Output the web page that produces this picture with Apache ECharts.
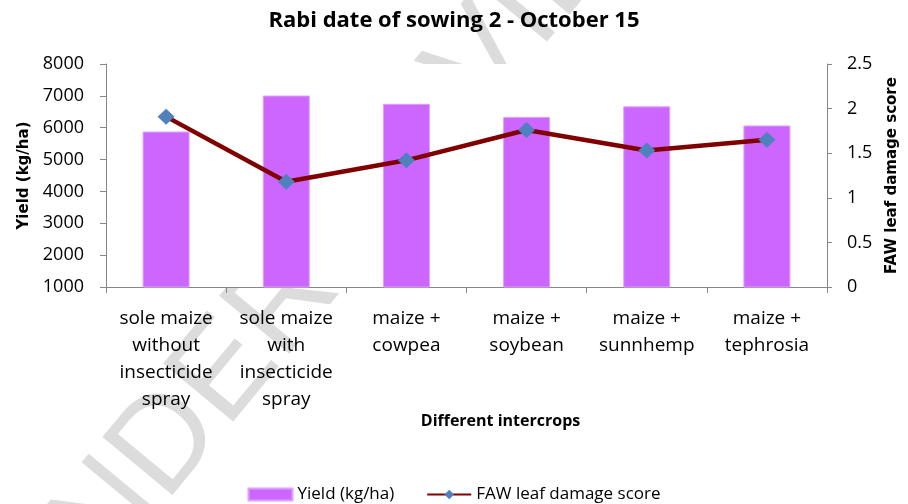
<!DOCTYPE html>
<html>
<head>
<meta charset="utf-8">
<script src="https://cdn.jsdelivr.net/npm/echarts@6/dist/echarts.min.js"></script>
<style>
  html, body { margin: 0; padding: 0; background: #fff; }
  #chart { width: 908px; height: 504px; }
</style>
</head>
<body>
<div id="chart"></div>
<script>
// data
var categories = [
  'sole maize\nwithout\ninsecticide\nspray',
  'sole maize\nwith\ninsecticide\nspray',
  'maize +\ncowpea',
  'maize +\nsoybean',
  'maize +\nsunnhemp',
  'maize +\ntephrosia'
]
var yieldData = [5880, 7010, 6750, 6340, 6670, 6070]
var damageScore = [1.91, 1.18, 1.42, 1.76, 1.53, 1.65]
var yieldTicks = [1000, 8000, 1000] // min, max, step
var scoreTicks = [0, 2.5, 0.5]

var font = "'Open Sans', 'Noto Sans', sans-serif"
var axisGray = '#868686'

var charts = echarts.init(document.getElementById('chart'))
var options = {
  animation: false,
  textStyle: { fontFamily: font },
  title: {
    text: 'Rabi date of sowing 2 - October 15',
    left: 'center',
    top: 5,
    textStyle: { fontFamily: font, fontSize: 22, fontWeight: 'bold', color: '#000' }
  },
  graphic: [{
    // faint watermark, hidden behind the white plot area
    type: 'text',
    x: -35,
    y: 585,
    rotation: 0.88,
    z: -10,
    silent: true,
    style: {
      text: 'UNDER REVIEW',
      fontSize: 132,
      fontFamily: 'Liberation Sans',
      fill: '#dcdcdc'
    }
  }],
  legend: {
    top: 481,
    left: 'center',
    itemGap: 32,
    itemWidth: 44,
    itemHeight: 12,
    textStyle: { fontFamily: font, fontSize: 17, color: '#000' },
    data: [
      { name: 'Yield (kg/ha)', icon: 'rect' },
      { name: 'FAW leaf damage score' }
    ]
  },
  grid: {
    show: true,
    backgroundColor: '#fff',
    borderWidth: 0,
    top: 64,
    bottom: 217,
    left: 106,
    right: 81
  },
  xAxis: {
    type: 'category',
    data: categories,
    name: 'Different intercrops',
    nameLocation: 'middle',
    nameGap: 121,
    nameTextStyle: {
      fontFamily: font, fontSize: 16, fontWeight: 'bold', color: '#000',
      padding: [0, 0, 0, 68]
    },
    axisLine: { lineStyle: { color: axisGray, width: 1 } },
    axisTick: { show: true, length: 6, lineStyle: { color: axisGray } },
    axisLabel: {
      interval: 0,
      margin: 18,
      fontSize: 19,
      lineHeight: 27,
      color: '#000'
    },
    splitLine: { show: false }
  },
  yAxis: [{
    type: 'value',
    min: yieldTicks[0],
    max: yieldTicks[1],
    interval: yieldTicks[2],
    name: 'Yield (kg/ha)',
    nameLocation: 'middle',
    nameGap: 74,
    nameRotate: 90,
    nameTextStyle: { fontFamily: 'DejaVu Sans', fontSize: 15, fontWeight: 'bold', color: '#000' },
    axisLine: { show: true, lineStyle: { color: axisGray } },
    axisTick: { show: true, length: 6, lineStyle: { color: axisGray } },
    axisLabel: {
      fontSize: 18, color: '#000', margin: 22,
      formatter: function (v) { return String(v) }
    },
    splitLine: { show: false }
  }, {
    type: 'value',
    min: scoreTicks[0],
    max: scoreTicks[1],
    interval: scoreTicks[2],
    position: 'right',
    name: 'FAW leaf damage score',
    nameLocation: 'middle',
    nameGap: 58,
    nameRotate: 90,
    nameTextStyle: { fontFamily: 'DejaVu Sans', fontSize: 15, fontWeight: 'bold', color: '#000' },
    axisLine: { show: true, lineStyle: { color: axisGray } },
    axisTick: { show: true, length: 5, lineStyle: { color: axisGray } },
    axisLabel: {
      fontSize: 18, color: '#000', margin: 20,
      formatter: function (v) { return String(v) }
    },
    splitLine: { show: false }
  }],
  series: [{
    name: 'Yield (kg/ha)',
    type: 'bar',
    yAxisIndex: 0,
    data: yieldData,
    barWidth: 47,
    itemStyle: { color: '#CC66FF', borderColor: '#DDA0FF', borderWidth: 1 }
  }, {
    name: 'FAW leaf damage score',
    type: 'line',
    yAxisIndex: 1,
    data: damageScore,
    symbol: 'diamond',
    symbolSize: [17, 16],
    lineStyle: { color: '#800000', width: 4.5 },
    itemStyle: { color: '#4F81BD' }
  }]
}
charts.setOption(options)
</script>
</body>
</html>
